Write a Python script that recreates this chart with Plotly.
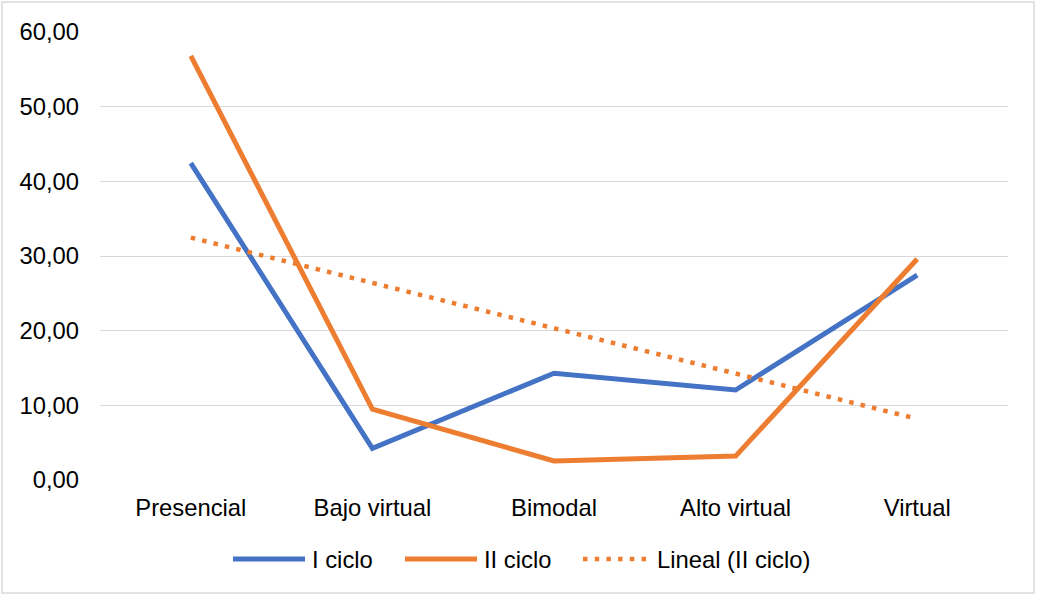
import numpy as np
import plotly.graph_objects as go

categorias = ["Presencial", "Bajo virtual", "Bimodal", "Alto virtual", "Virtual"]
i_ciclo = [42.45, 4.25, 14.3, 12.05, 27.45]
ii_ciclo = [56.8, 9.5, 2.55, 3.2, 29.6]
y_ticks = [0, 10, 20, 30, 40, 50, 60]
nombres = ["I ciclo", "II ciclo", "Lineal (II ciclo)"]

AZUL = "#4472C4"
NARANJA = "#ED7D31"
DASH = "4.5px,7.2px"
FS = 23.8

# linea de tendencia lineal de II ciclo (como la de Excel)
xs = np.arange(1, len(categorias) + 1)
pendiente, corte = np.polyfit(xs, ii_ciclo, 1)
tendencia = list(pendiente * xs + corte)

fig = go.Figure()

fig.add_trace(go.Scatter(
    x=categorias, y=i_ciclo, mode="lines", name=nombres[0],
    line=dict(color=AZUL, width=5)
))
fig.add_trace(go.Scatter(
    x=categorias, y=ii_ciclo, mode="lines", name=nombres[1],
    line=dict(color=NARANJA, width=5)
))
fig.add_trace(go.Scatter(
    x=categorias, y=tendencia, mode="lines", name=nombres[2],
    line=dict(color=NARANJA, width=4.5, dash=DASH)
))

L, R, T, B = 100, 29, 32, 116
W, H = 1037, 596
pw, ph = W - L - R, H - T - B


def px_x(v):
    return (v - L) / pw


def px_y(v):
    return (T + ph - v) / ph


# marco gris alrededor del grafico
fig.add_shape(
    type="rect", xref="paper", yref="paper",
    x0=px_x(2), x1=px_x(W - 3), y0=px_y(H - 3), y1=px_y(2),
    line=dict(color="#D9D9D9", width=1.5), layer="below"
)

# leyenda al estilo Excel (muestras de linea largas)
ley_y = 559
muestras = [(233, 305, AZUL, "solid", 5), (405, 477, NARANJA, "solid", 5),
            (583, 650, NARANJA, DASH, 4.5)]
for (xa, xb, col, dash, w), nombre in zip(muestras, nombres):
    fig.add_shape(
        type="line", xref="paper", yref="paper",
        x0=px_x(xa), x1=px_x(xb), y0=px_y(ley_y), y1=px_y(ley_y),
        line=dict(color=col, width=w, dash=dash)
    )
    fig.add_annotation(
        xref="paper", yref="paper", x=px_x(xb + 5), y=px_y(ley_y),
        xanchor="left", yanchor="middle", text=nombre, showarrow=False,
        font=dict(size=FS)
    )

fig.update_layout(
    width=W, height=H,
    margin=dict(l=L, r=R, t=T, b=B),
    plot_bgcolor="white",
    paper_bgcolor="white",
    separators=", ",
    font=dict(family="Liberation Sans, Arial, sans-serif", size=FS, color="#000000"),
    showlegend=False,
    xaxis=dict(
        type="category", range=[-0.5, 4.5],
        showgrid=False, showline=False, zeroline=False,
        ticks="", tickfont=dict(size=FS), ticklabelstandoff=11,
    ),
    yaxis=dict(
        range=[0, 60], tickvals=y_ticks, tickformat=".2f",
        showgrid=True, gridcolor="#D9D9D9", gridwidth=1.3,
        zeroline=False, showline=False, ticks="",
        tickfont=dict(size=FS), ticklabelstandoff=20,
    ),
)

fig.write_html("out.html", config={"displayModeBar": False},
               post_script="document.body.style.margin='0';")
